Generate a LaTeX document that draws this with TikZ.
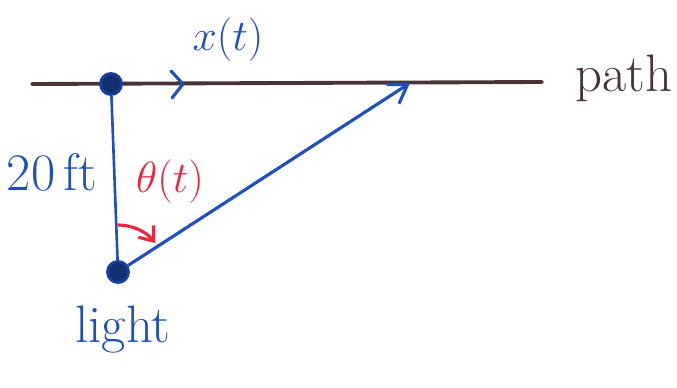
\documentclass[tikz,border=0pt]{standalone}
\usetikzlibrary{arrows.meta,calc}

\definecolor{inkblue}{RGB}{30,80,190}
\definecolor{inkbrown}{RGB}{72,52,52}
\definecolor{inkred}{RGB}{232,40,62}

\tikzset{
    dot/.style={circle, draw=inkblue!80!black, fill=inkblue!60!black, line width=1.6pt, inner sep=0pt, minimum size=12pt},
    lbl/.style={font=\fontsize{30}{32}\selectfont},
    smalllbl/.style={font=\fontsize{25}{27}\selectfont}
}

\begin{document}
\begin{tikzpicture}[x=0.02cm, y=-0.02cm]
        \useasboundingbox (0,0) rectangle (677,388);

        % Path
        \coordinate (pstart) at (32,84);
        \coordinate (pend) at (542,82);
        \draw[inkbrown, line width=2.2pt, line cap=round] (pstart) -- (pend);
        \node[lbl, text=inkbrown] (pathlbl) at (624,78) {path};

        % Points
        \node[dot] (top) at (111,84) {};
        \node[dot] (light) at (118,272) {};
        \coordinate (hit) at (410,83);

        % Direction of x(t)
        \coordinate (chev) at (183,84);
        \draw[inkblue, line width=1.8pt, line cap=round, line join=round]
            ($(chev)+(-12,-13)$) -- (chev) -- ($(chev)+(-11,14)$);
        \node[lbl, text=inkblue] (xlbl) at (228,40) {$x(t)$};

        % Triangle
        \draw[inkblue, line width=1.5pt] (top) -- (light);
        \draw[inkblue, line width=1.8pt, -{Straight Barb[length=10pt, width=13pt]}] (light) -- (hit);
        \node[lbl, text=inkblue] (dist) at (52,172) {20\,ft};
        \node[lbl, text=inkblue] (lightlbl) at (123,330) {light};

        % Angle
        \draw[inkred, line width=1.8pt, -{Straight Barb[length=7pt, width=11pt]}]
            ($(light)+(-90:47)$) arc[start angle=-90, end angle=-38, radius=47];
        \node[smalllbl, text=inkred] (thlbl) at (170,182) {$\theta(t)$};

    \end{tikzpicture}
\end{document}
